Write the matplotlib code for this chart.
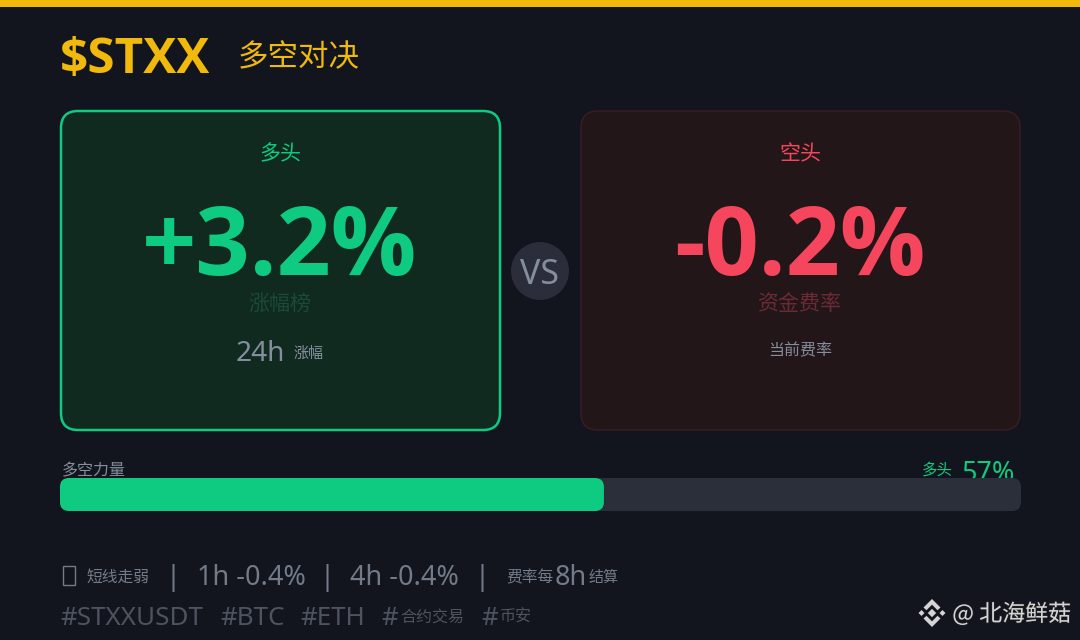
import matplotlib
matplotlib.use("Agg")
import matplotlib.pyplot as plt
import matplotlib.patches as mpatches
import matplotlib.patheffects as pe

W, H = 1080, 640

# values
TICKER = "$STXX"
TITLE_CJK = "多空对决"
LONG_PCT = 3.2
SHORT_PCT = -0.2
LONG_SHARE_LABEL = 57
LONG_SHARE_DRAWN = 56.6
FOOT_1H = -0.4
FOOT_4H = -0.4

BG = "#12151d"
GOLD = "#f0b90b"
GREEN = "#0ecb81"
RED = "#f6465d"
GREY = "#848e9c"
FOOT = "#737b89"
TAGS = "#4d535f"

plt.rcParams["font.family"] = ["Noto Sans", "Noto Sans CJK SC"]
PX = 0.72  # px -> pt at dpi 100
CJK = ["Noto Sans CJK SC", "Noto Sans"]
BOLD = ["Open Sans", "Noto Sans"]

fig = plt.figure(figsize=(W / 100, H / 100), dpi=100, facecolor=BG)
ax = fig.add_axes([0, 0, 1, 1])
ax.set_xlim(0, W)
ax.set_ylim(H, 0)
ax.axis("off")


def label(x, y, s, px, color, ha="center", z=3, **kw):
    return ax.text(x, y, s, fontsize=px * PX, color=color, ha=ha, va="baseline", zorder=z, **kw)


def rbox(x0, y0, x1, y1, r, fc, ec="none", lw=0, z=2):
    p = mpatches.FancyBboxPatch((x0 + r, y0 + r), x1 - x0 - 2 * r, y1 - y0 - 2 * r,
                                boxstyle=f"round,pad={r},rounding_size={r}",
                                facecolor=fc, edgecolor=ec, linewidth=lw, zorder=z)
    ax.add_patch(p)
    return p


# top strip + title
ax.add_patch(mpatches.Rectangle((0, 0), W, 7, facecolor=GOLD, edgecolor="none"))
label(60, 73, TICKER, 49.5, GOLD, ha="left", weight="bold", family=BOLD)
label(238, 66, TITLE_CJK, 30.5, GOLD, ha="left", family=CJK)

# cards
rbox(61, 111, 500, 430, 17, "#112a20", GREEN, 1.8)
rbox(581, 111, 1020, 430, 17, "#221619", "#3f1c24", 1.0)

label(280, 160, "多头", 21, GREEN, family=CJK)
label(280, 275, f"+{LONG_PCT}%", 95, GREEN, weight="bold", family=BOLD)
label(280, 310, "涨幅榜", 21, "#1a4b35", family=CJK)
label(236, 361, "24h", 28, GREY, ha="left")
label(293, 358, "涨幅", 15, GREY, ha="left", family=CJK)

label(800, 160, "空头", 21, RED, family=CJK)
label(800, 275, f"{SHORT_PCT}%", 95, RED, weight="bold", family=BOLD)
label(800, 310, "资金费率", 21, "#6b2b33", family=CJK)
label(800, 355, "当前费率", 16, GREY, family=CJK)

# VS badge
ax.add_patch(mpatches.Circle((540, 271), 29, facecolor="#2b2e3a", edgecolor="none", zorder=4))
label(539, 284, "VS", 34, GREY, z=5, stretch="condensed")

# long/short bar, labels sit under it
label(62, 475, "多空力量", 16, GREY, ha="left", z=1, family=CJK)
label(922, 475, "多头", 15.5, GREEN, ha="left", z=1, family=CJK)
label(1015, 481, f"{LONG_SHARE_LABEL}%", 27, GREEN, ha="right", z=1)
rbox(60, 478, 1021, 511, 9, "#2b2f3a", z=2)
rbox(60, 478, 60 + 961 * LONG_SHARE_DRAWN / 100, 511, 9, GREEN, z=3)

# footer, first line - the leading emoji has no installed glyph, so it is a small outline
ax.add_patch(mpatches.Rectangle((62.5, 566), 12, 19, facecolor="none", edgecolor=FOOT, linewidth=1.0))
label(86, 582, "短线走弱", 15.8, FOOT, ha="left", family=CJK)
for x in (173, 327, 482):
    label(x, 585, "|", 27, FOOT)
label(197, 585, f"1h {FOOT_1H}%", 27, FOOT, ha="left")
label(350, 585, f"4h {FOOT_4H}%", 27, FOOT, ha="left")
label(506, 582, "费率每", 15.8, FOOT, ha="left", family=CJK)
label(555, 585, "8h", 27, FOOT, ha="left")
label(589, 582, "结算", 15, FOOT, ha="left", family=CJK)

# footer, tags
label(60, 625, "#STXXUSDT", 26, TAGS, ha="left")
label(220, 625, "#BTC", 26, TAGS, ha="left")
label(300, 625, "#ETH", 26, TAGS, ha="left")
label(381, 625, "#", 26, TAGS, ha="left")
label(400, 622, "合约交易", 16, TAGS, ha="left", family=CJK)
label(481, 625, "#", 26, TAGS, ha="left")
label(500, 622, "币安", 16, TAGS, ha="left", family=CJK)

# watermark
cx, cy = 932, 613
mark = "#d4d4d4"
for dx, dy, s in [(0, 0, 4.2), (-10.5, 0, 3), (10.5, 0, 3)]:
    ax.add_patch(mpatches.Polygon([(cx + dx - s, cy + dy), (cx + dx, cy + dy - s),
                                   (cx + dx + s, cy + dy), (cx + dx, cy + dy + s)],
                                  closed=True, facecolor=mark, edgecolor="none", zorder=6))
for sgn in (-1, 1):
    ax.add_patch(mpatches.Polygon([(cx - 8.5, cy + sgn * 5.5), (cx, cy + sgn * 14), (cx + 8.5, cy + sgn * 5.5),
                                   (cx + 5.5, cy + sgn * 2.8), (cx, cy + sgn * 8.3), (cx - 5.5, cy + sgn * 2.8)],
                                  closed=True, facecolor=mark, edgecolor="none", zorder=6))
wm = label(1071, 621, "@ 北海鲜菇", 23, mark, ha="right", z=6, family=CJK)
wm.set_path_effects([pe.withStroke(linewidth=1.2, foreground="#2a2a2a", alpha=0.5)])

fig.savefig("out.png", dpi=100, facecolor=BG)
